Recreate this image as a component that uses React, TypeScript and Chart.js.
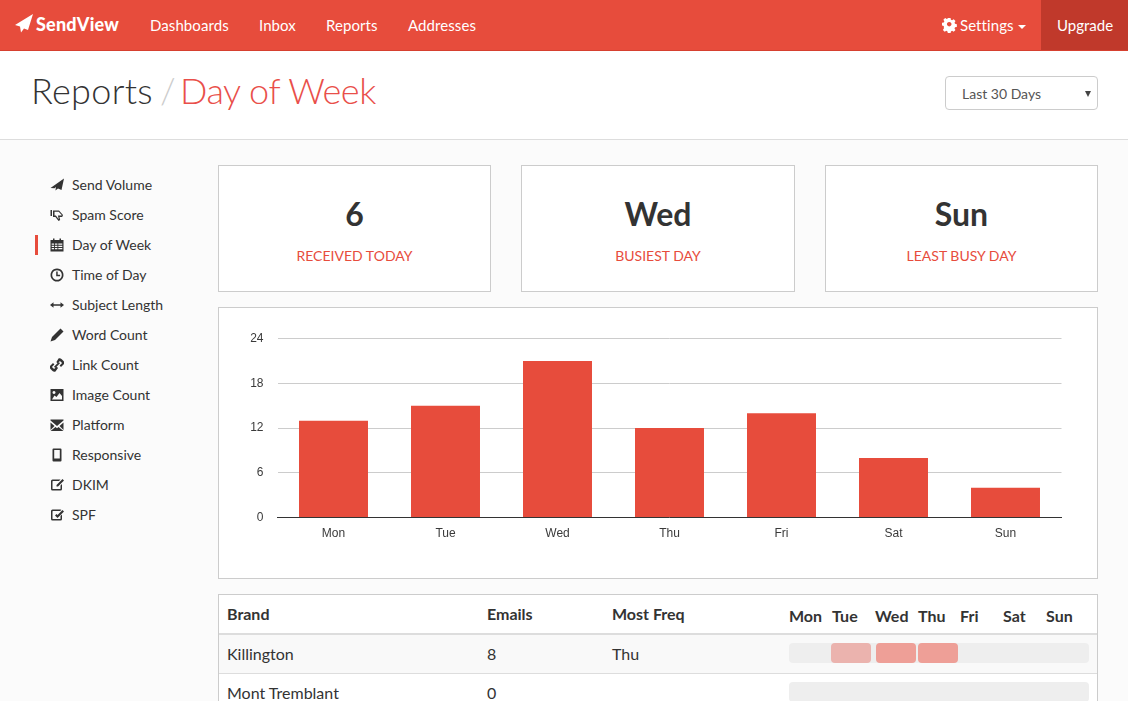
import React, { useEffect, useRef } from "react";
import { Chart, registerables } from "chart.js";

Chart.register(...registerables);

const days = ["Mon", "Tue", "Wed", "Thu", "Fri", "Sat", "Sun"];
const emailsPerDay = [13, 15, 21, 12, 14, 8, 4];
const yTicks = [0, 6, 12, 18, 24];
const navItems = ["Dashboards", "Inbox", "Reports", "Addresses"];
const navLefts = [150, 259, 326, 408];
const sideItems = ["Send Volume", "Spam Score", "Day of Week", "Time of Day", "Subject Length", "Word Count", "Link Count", "Image Count", "Platform", "Responsive", "DKIM", "SPF"];
const statValues = ["6", "Wed", "Sun"];
const statLabels = ["RECEIVED TODAY", "BUSIEST DAY", "LEAST BUSY DAY"];
const brands = ["Killington", "Mont Tremblant"];
const brandEmails = ["8", "0"];
const brandFreq = ["Thu", ""];
const dayHeaderLefts = [789, 832, 875, 918, 960, 1003, 1046];

const RED = "#e74c3c";
const LATO = "Lato, 'Open Sans', sans-serif";

const abs = (left: number, top: number, width: number, height: number, extra: React.CSSProperties = {}): React.CSSProperties => ({
  position: "absolute", left, top, width, height, boxSizing: "border-box", ...extra,
});

const iconPaths: string[] = [
  "M14 0.5L0.5 10l4 .3L6 9l-.6 3.5L8 10.5l3.5 1.5z",
  "M0.5 2h1.5v6H0.5zM3 2.5h6l4 4.5-.8 2H9.5l.7 3-1.6 1-3.2-4H3zM4.5 3.8v3.6h1.4l2.6 3.6.2-.2-.8-3.3h3.6l.2-.5-3-3.2z",
  "M3 0.5h1.5V2h5V0.5H11V2h2.5v11.5H0.5V2H3zM1.7 5.5v1.2h2.4V5.5zM5 5.5v1.2h2.4V5.5zM8.3 5.5v1.2h4V5.5zM1.7 7.8V9h2.4V7.8zM5 7.8V9h2.4V7.8zM8.3 7.8V9h4V7.8zM1.7 10.1v1.2h2.4v-1.2zM5 10.1v1.2h2.4v-1.2zM8.3 10.1v1.2h4v-1.2z",
  "M7 0.5a6.5 6.5 0 1 0 .01 0zM7 2.2a4.8 4.8 0 1 1-.01 0zM6.2 3.4h1.5v3.4h2.4v1.4H6.2z",
  "M3.5 4.2v2h7v-2L14 7l-3.5 2.8v-2h-7v2L0 7z",
  "M10.5 0.5l3 3-8.5 8.5-4.5 1.5L2 9z",
  "M8.5 0.5c1-.5 2.2-.3 3 .5l2 2c.8.8 1 2 .5 3L11 9l-1.4-1.4 2.5-2.5-2.2-2.2-2.5 2.5L6.4 4zM5.5 13.5c-1 .5-2.2.3-3-.5l-2-2c-.8-.8-1-2-.5-3L3 5l1.4 1.4L1.9 8.900l2.2 2.200 2.500-2.500L8 10zM8.700 4l1.300 1.300-4.700 4.700L4 8.700z",
  "M0.500 1h13v12h-13zM2 11.500h10V8L9.500 5 6.500 9 4.500 7.500zM4 3a1.500 1.500 0 1 0 .010 0z",
  "M0.500 1.500h13v1L7 8 .500 2.500zM0.500 4.500L4.500 8 .500 12zM13.500 4.500v7.500L9.500 8zM5.500 9L7 10.200 8.500 9l5 4h-13z",
  "M3.500 0.500h7a1 1 0 0 1 1 1v11a1 1 0 0 1-1 1h-7a1 1 0 0 1-1-1v-11a1 1 0 0 1 1-1zM4.200 2v8.500h5.600V2z",
  "M2.500 1.500h8L9 3H3a.500.500 0 0 0-.500.500v7A.500.500 0 0 0 3 11h7a.500.500 0 0 0 .500-.500V7.500L12 6v5a1.500 1.500 0 0 1-1.500 1.500h-8A1.500 1.500 0 0 1 1 11V3a1.500 1.500 0 0 1 1.500-1.500zM12.500 1L14 2.500 8 8.500H6.500V7z",
  "M2.500 1.500h8a1.500 1.500 0 0 1 1 .400L10 3H3a.500.500 0 0 0-.500.500v7A.500.500 0 0 0 3 11h7a.500.500 0 0 0 .500-.500V8L12 6.500V11a1.500 1.500 0 0 1-1.500 1.500h-8A1.500 1.500 0 0 1 1 11V3a1.500 1.500 0 0 1 1.500-1.500zM6.500 6l1 1L12.500 2 14 3.500 7.500 10 5 7.500z",
];

function BarChart() {
  const ref = useRef<HTMLCanvasElement | null>(null);
  useEffect(() => {
    if (!ref.current) return;
    const chart = new Chart(ref.current, {
      type: "bar",
      data: {
        labels: days,
        datasets: [{ data: emailsPerDay, backgroundColor: RED, borderWidth: 0, barPercentage: 0.616, categoryPercentage: 1 }],
      },
      options: {
        animation: false,
        responsive: false,
        devicePixelRatio: 1,
        layout: { padding: { top: 30.6, right: 35.5, bottom: 0, left: 0 } },
        plugins: { legend: { display: false }, tooltip: { enabled: false } },
        scales: {
          x: {
            grid: { display: false, drawTicks: false },
            border: { color: "#333333", width: 1 },
            ticks: { color: "#3a3a3a", font: { family: "'Liberation Sans', Arial", size: 12 }, padding: 9, maxRotation: 0 },
            afterFit: (s: any) => { s.height = 60.4; },
          },
          y: {
            min: 0,
            max: 24,
            afterBuildTicks: (s: any) => { s.ticks = yTicks.map((value) => ({ value })); },
            grid: { color: "#cccccc", drawTicks: false },
            border: { display: false },
            ticks: { color: "#3a3a3a", font: { family: "'Liberation Sans', Arial", size: 12 }, padding: 14 },
            afterFit: (s: any) => { s.width = 58.5; },
          },
        },
      },
    } as any);
    return () => chart.destroy();
  }, []);
  return <canvas ref={ref} width={878} height={270} style={{ position: "absolute", left: 0, top: 0, width: 878, height: 270 }} />;
}

export default function App() {
  return (
    <div style={{ position: "fixed", left: 0, top: 0, width: 1128, height: 701, overflow: "hidden", background: "#fbfbfb", fontFamily: LATO, color: "#333" }}>
      {/* nav */}
      <div style={abs(0, 0, 1128, 51, { background: RED, borderBottom: "1px solid #d6402f" })} />
      <svg style={abs(15, 14, 19, 19)} viewBox="0 0 19 19"><path d="M18 0L0 11l5 1.500 1 6 3-4 4 1.500z" fill="#fff" /></svg>
      <div style={abs(36, 11, 100, 26, { color: "#fff", fontWeight: 900, fontSize: 18, lineHeight: "26px", letterSpacing: 0.2, whiteSpace: "nowrap" })}>SendView</div>
      {navItems.map((n, i) => (
        <div key={n} style={abs(navLefts[i], 12, 110, 26, { color: "#fff", fontSize: 15, lineHeight: "26px", letterSpacing: 0.08 })}>{n}</div>
      ))}
      <svg style={abs(942, 17, 16, 16)} viewBox="0 0 16 16"><path fillRule="evenodd" d="M6.500 1h3l.400 2 1.300.600 1.800-1.100 2 2-1.100 1.800.600 1.300 2 .400v3l-2 .400-.600 1.300 1.100 1.800-2 2-1.800-1.100-1.300.600-.400 2h-3l-.400-2-1.300-.600-1.800 1.100-2-2 1.100-1.800L2 9.900 0 9.500v-3l2-.400.600-1.300-1.100-1.800 2-2 1.800 1.100 1.300-.600zM8 5.500a2.500 2.500 0 1 0 .010 0z" fill="#fff" transform="scale(.9)" /></svg>
      <div style={abs(960, 12, 60, 26, { color: "#fff", fontSize: 15, lineHeight: "26px", letterSpacing: 0.08 })}>Settings</div>
      <div style={abs(1018, 25, 8, 4, { width: 0, height: 0, borderLeft: "4px solid transparent", borderRight: "4px solid transparent", borderTop: "4px solid #fff" })} />
      <div style={abs(1041, 0, 87, 50, { background: "#c0392b" })} />
      <div style={abs(1057, 12, 60, 26, { color: "#fff", fontSize: 15, lineHeight: "26px" })}>Upgrade</div>

      {/* header */}
      <div style={abs(0, 51, 1128, 89, { background: "#fff", borderBottom: "1px solid #ddd" })} />
      <div style={abs(31, 67, 130, 46, { fontSize: 36, fontWeight: 300, lineHeight: "46px", color: "#333", whiteSpace: "nowrap", letterSpacing: 0.3 })}>Reports</div>
      <div style={abs(160, 67, 16, 46, { fontSize: 36, fontWeight: 300, lineHeight: "46px", color: "#ccc" })}>/</div>
      <div style={abs(180, 67, 220, 46, { fontSize: 36, fontWeight: 300, lineHeight: "46px", color: "#e94f4a", whiteSpace: "nowrap", letterSpacing: -0.45 })}>Day of Week</div>
      <div style={abs(945, 76, 153, 34, { background: "#fff", border: "1px solid #ccc", borderRadius: 4 })} />
      <div style={abs(962, 83, 110, 22, { fontSize: 14, lineHeight: "22px", color: "#555" })}>Last 30 Days</div>
      <div style={abs(1085, 91, 7, 5, { width: 0, height: 0, borderLeft: "3.500px solid transparent", borderRight: "3.500px solid transparent", borderTop: "6px solid #444" })} />

      {/* sidebar */}
      <div style={abs(35, 235, 3, 20, { background: RED })} />
      {sideItems.map((s, i) => (
        <React.Fragment key={s}>
          <svg style={abs(50, 178 + i * 30, 14, 14)} viewBox="0 0 14 14"><path fillRule="evenodd" d={iconPaths[i]} fill="#333" /></svg>
          <div style={abs(72, 175 + i * 30, 130, 20, { fontSize: 14, lineHeight: "20px", color: "#333" })}>{s}</div>
        </React.Fragment>
      ))}

      {/* stats */}
      {statValues.map((v, i) => {
        const lefts = [218, 521, 825];
        const widths = [273, 274, 273];
        return (
          <div key={statLabels[i]} style={abs(lefts[i], 165, widths[i], 127, { background: "#fff", border: "1px solid #ccc", textAlign: "center" })}>
            <div style={{ position: "absolute", left: 0, right: 0, top: 26, fontSize: 32, fontWeight: 700, lineHeight: "44px", color: "#333" }}>{v}</div>
            <div style={{ position: "absolute", left: 0, right: 0, top: 80, fontSize: 14, lineHeight: "20px", color: RED }}>{statLabels[i]}</div>
          </div>
        );
      })}

      {/* chart */}
      <div style={abs(218, 307, 880, 272, { background: "#fff", border: "1px solid #ccc" })}>
        <BarChart />
      </div>

      {/* table */}
      <div style={abs(218, 594, 880, 120, { background: "#fff", border: "1px solid #ccc" })} />
      <div style={abs(219, 633, 878, 2, { background: "#ddd" })} />
      <div style={abs(219, 635, 878, 38, { background: "#f9f9f9" })} />
      <div style={abs(219, 673, 878, 1, { background: "#ddd" })} />
      <div style={abs(227, 603, 200, 22, { fontSize: 16, fontWeight: 700, lineHeight: "22px" })}>Brand</div>
      <div style={abs(487, 603, 100, 22, { fontSize: 16, fontWeight: 700, lineHeight: "22px" })}>Emails</div>
      <div style={abs(612, 603, 120, 22, { fontSize: 16, fontWeight: 700, lineHeight: "22px" })}>Most Freq</div>
      {days.map((d, i) => (
        <div key={d} style={abs(dayHeaderLefts[i], 605, 42, 22, { fontSize: 16, fontWeight: 700, lineHeight: "22px" })}>{d}</div>
      ))}
      {brands.map((b, i) => (
        <React.Fragment key={b}>
          <div style={abs(227, 643 + i * 39, 240, 22, { fontSize: 16, lineHeight: "22px" })}>{b}</div>
          <div style={abs(487, 643 + i * 39, 60, 22, { fontSize: 16, lineHeight: "22px" })}>{brandEmails[i]}</div>
          <div style={abs(612, 643 + i * 39, 60, 22, { fontSize: 16, lineHeight: "22px" })}>{brandFreq[i]}</div>
          <div style={abs(789, 643 + i * 39, 300, 20, { background: "#eee", borderRadius: 4 })} />
        </React.Fragment>
      ))}
      <div style={abs(831, 643, 40, 20, { background: "#ebb3ae", borderRadius: 4 })} />
      <div style={abs(876, 643, 40, 20, { background: "#ee9f97", borderRadius: 4 })} />
      <div style={abs(918, 643, 40, 20, { background: "#ee9f97", borderRadius: 4 })} />
    </div>
  );
}
